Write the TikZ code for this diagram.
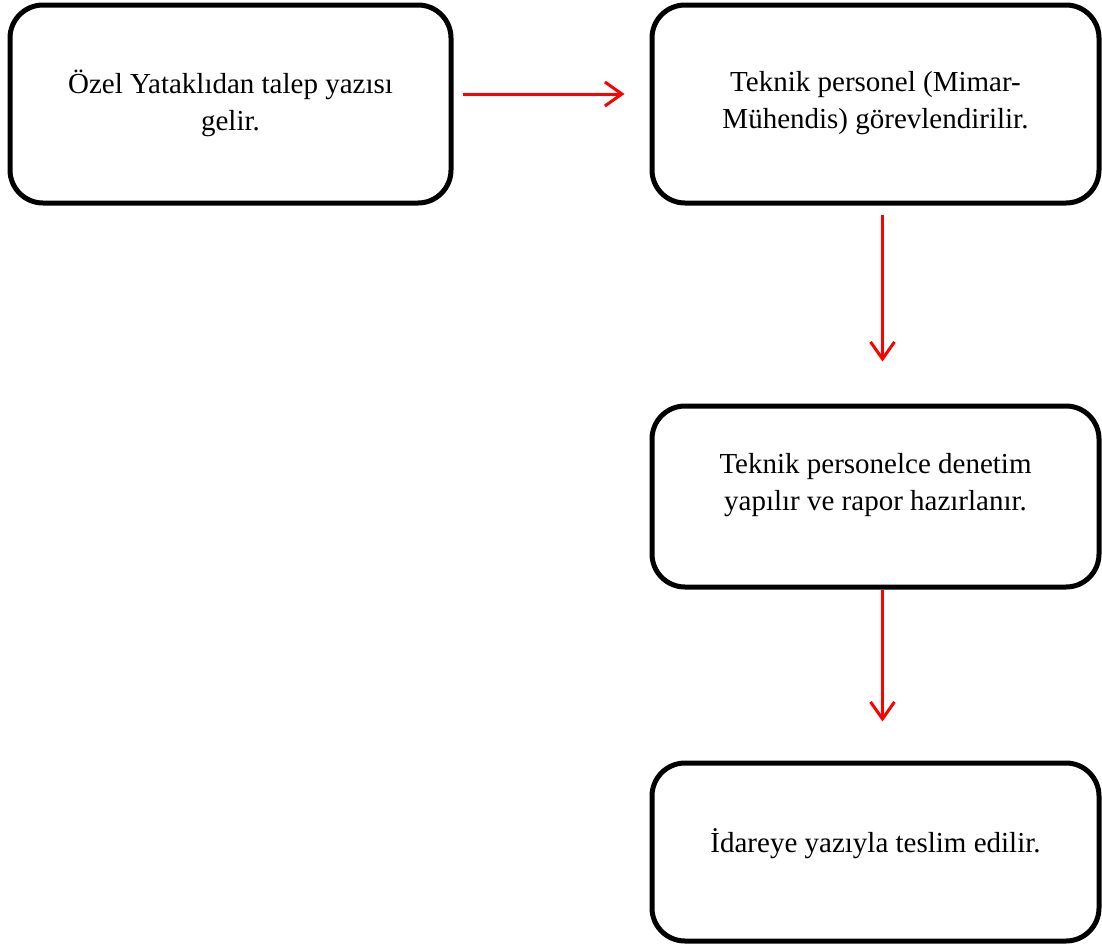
\documentclass[tikz,border=0pt]{standalone}
\usepackage{fontspec}
\setmainfont{Liberation Serif}
\usepackage{tikz}
\usetikzlibrary{arrows.meta}

\begin{document}
\begin{tikzpicture}[
  x=1pt, y=-1pt,
  box/.style={rectangle, draw, line width=5pt, rounded corners=33pt,
              minimum width=447pt, align=center, text depth=30pt,
              font=\fontsize{29}{37}\selectfont},
  arrow/.style={-{Straight Barb[length=17pt,width=24pt]}, red, line width=3pt}
]
  \useasboundingbox (0,0) rectangle (1102,945);

  \node[box, minimum width=441pt, minimum height=198pt, text depth=8pt] (req) at (230.5,104) {Özel Yataklıdan talep yazısı\\gelir.};
  \node[box, minimum height=198pt, text depth=8pt] (staff) at (875.5,104) {Teknik personel (Mimar-\\Mühendis) görevlendirilir.};
  \node[box, minimum height=181pt] (audit) at (875.5,496.5) {Teknik personelce denetim\\yapılır ve rapor hazırlanır.};
  \node[box, minimum height=178pt, text depth=23pt] (deliver) at (875.5,852) {İdareye yazıyla teslim edilir.};

  \draw[arrow, shorten <=9pt, shorten >=25pt] ([yshift=10pt]req.east) -- ([yshift=10pt]staff.west);
  \draw[arrow, shorten <=9pt, shorten >=42pt] ([xshift=7pt]staff.south) -- ([xshift=7pt]audit.north);
  \draw[arrow, shorten >=39pt] ([xshift=7pt]audit.south) -- ([xshift=7pt]deliver.north);
\end{tikzpicture}
\end{document}
